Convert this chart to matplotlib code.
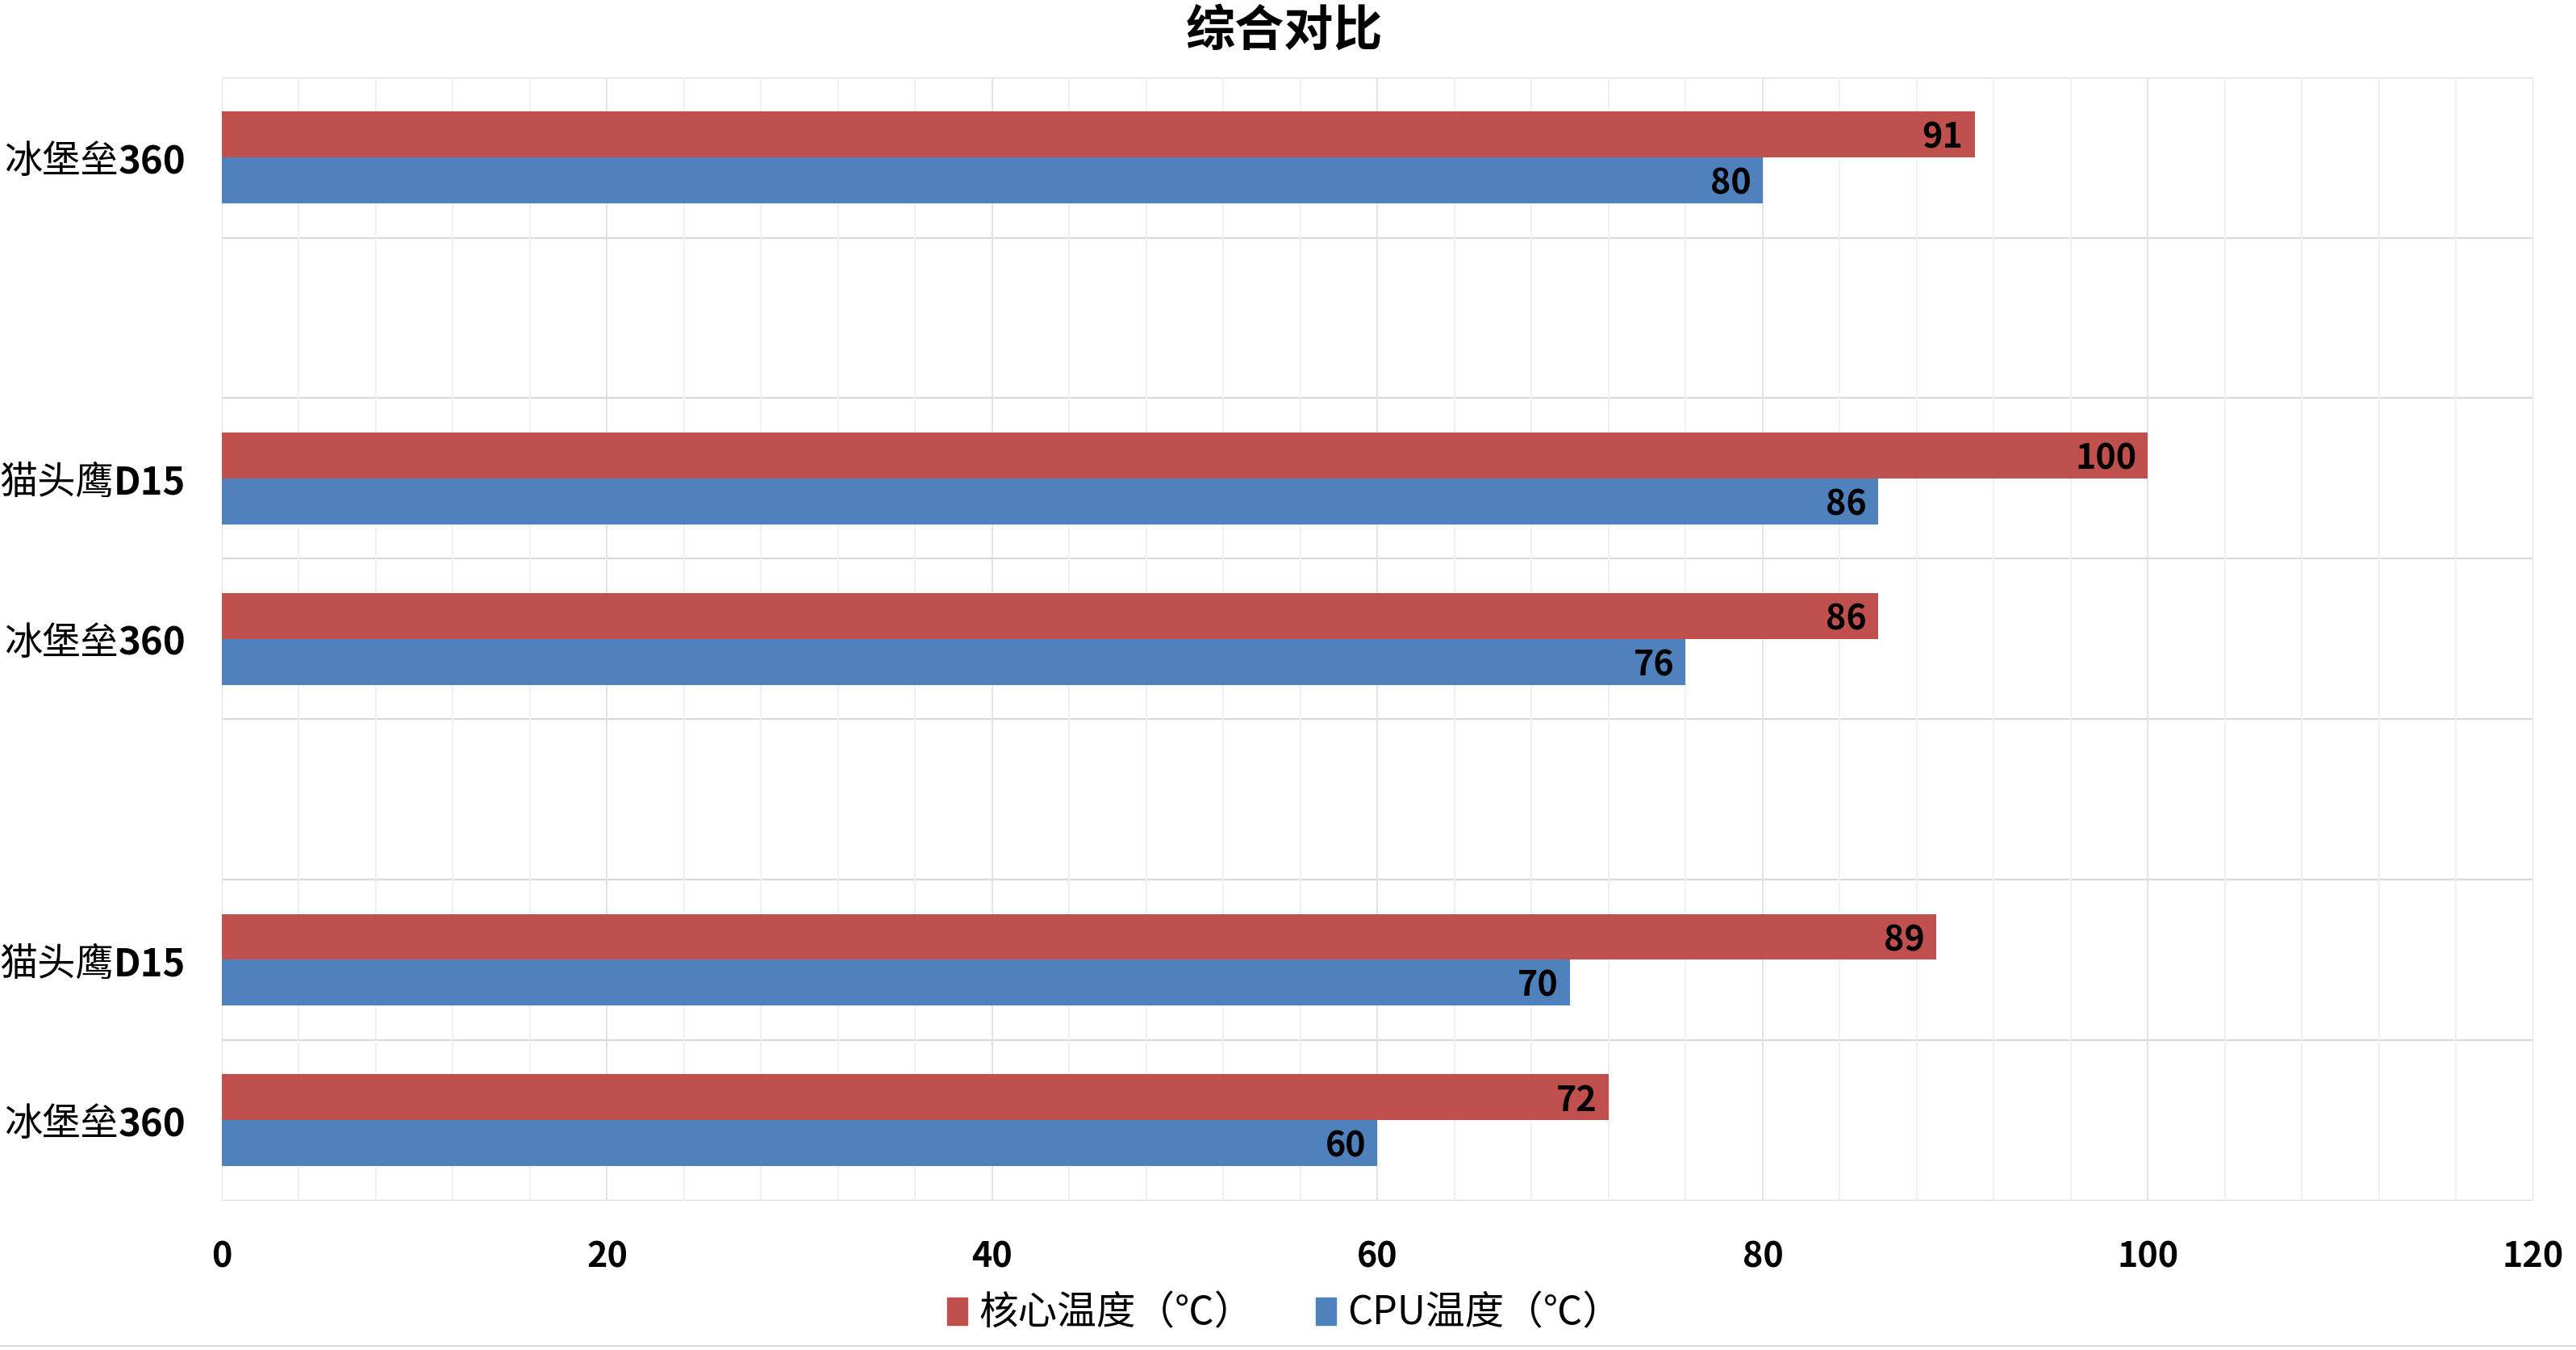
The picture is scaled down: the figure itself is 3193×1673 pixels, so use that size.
import re

import matplotlib
matplotlib.use("Agg")
import matplotlib.pyplot as plt
from matplotlib.lines import Line2D
from matplotlib.patches import Patch
from matplotlib.ticker import MultipleLocator
import numpy as np

plt.rcParams["font.family"] = ["Liberation Sans Narrow", "Noto Sans CJK SC", "DejaVu Sans"]

# categories listed top to bottom ("" = empty spacer rows)
categories = ["冰堡垒360", "", "猫头鹰D15", "冰堡垒360", "", "猫头鹰D15", "冰堡垒360"]
core_temp = [91, None, 100, 86, None, 89, 72]
cpu_temp = [80, None, 86, 76, None, 70, 60]
series_names = ["核心温度（℃）", "CPU温度（℃）"]
colors = ["#C0504D", "#4F81BD"]

fig = plt.figure(figsize=(31.93, 16.73), dpi=100)
ax = fig.add_axes([0.0861, 0.1107, 0.8973, 0.8321])

y = np.arange(len(categories))
bar_h = 0.286
for i, (a, b) in enumerate(zip(core_temp, cpu_temp)):
    if a is None:
        continue
    ax.barh(y[i] - bar_h / 2, a, height=bar_h, color=colors[0], zorder=3)
    ax.barh(y[i] + bar_h / 2, b, height=bar_h, color=colors[1], zorder=3)
    ax.text(a - 0.6, y[i] - bar_h / 2 + 0.02, str(a), ha="right", va="center",
            fontsize=31, fontweight="bold", zorder=4)
    ax.text(b - 0.6, y[i] + bar_h / 2 + 0.02, str(b), ha="right", va="center",
            fontsize=31, fontweight="bold", zorder=4)

ax.set_xlim(0, 120)
ax.set_ylim(len(categories) - 0.5, -0.5)

# gridlines
ax.xaxis.set_major_locator(MultipleLocator(20))
ax.xaxis.set_minor_locator(MultipleLocator(4))
ax.grid(which="major", axis="x", color="#E4E4E4", linewidth=1.5, zorder=0)
ax.grid(which="minor", axis="x", color="#F0F0F0", linewidth=1.4, zorder=0)
for yb in np.arange(-0.5, len(categories), 1.0):
    ax.axhline(yb, color="#D9D9D9", linewidth=1.6, zorder=1)

for s in ax.spines.values():
    s.set_visible(False)
ax.tick_params(axis="x", which="both", length=0, pad=34, labelsize=31)
for lab in ax.get_xticklabels():
    lab.set_fontweight("bold")
ax.set_yticks([])

# category labels: chinese part regular, model number bold
trans = ax.get_yaxis_transform()
for i, name in enumerate(categories):
    if not name:
        continue
    m = re.search(r"[A-Za-z0-9]", name)
    head, tail = name[:m.start()], name[m.start():]
    t = ax.text(-0.0155, y[i] + 0.03, tail, transform=trans, ha="right", va="center",
                fontsize=34, fontweight="bold")
    ax.annotate(head, xy=(0, 0), xycoords=t, ha="right", va="bottom",
                fontsize=34, family=["Noto Sans CJK SC"], fontweight="light")

fig.text(0.4987, 0.977, "综合对比", ha="center", va="center",
         fontsize=44, fontweight="bold", family=["Noto Sans CJK SC"])

handles = [Patch(color=c) for c in colors]
fig.legend(handles, series_names, loc="center", bbox_to_anchor=(0.4987, 0.027),
           ncol=2, frameon=False, fontsize=35, handlelength=0.5, handleheight=0.7,
           handletextpad=0.3, columnspacing=1.6)

fig.add_artist(Line2D([0, 1], [0.003, 0.003], color="#D9D9D9", linewidth=1.5))

fig.savefig("out.png", dpi=100)
